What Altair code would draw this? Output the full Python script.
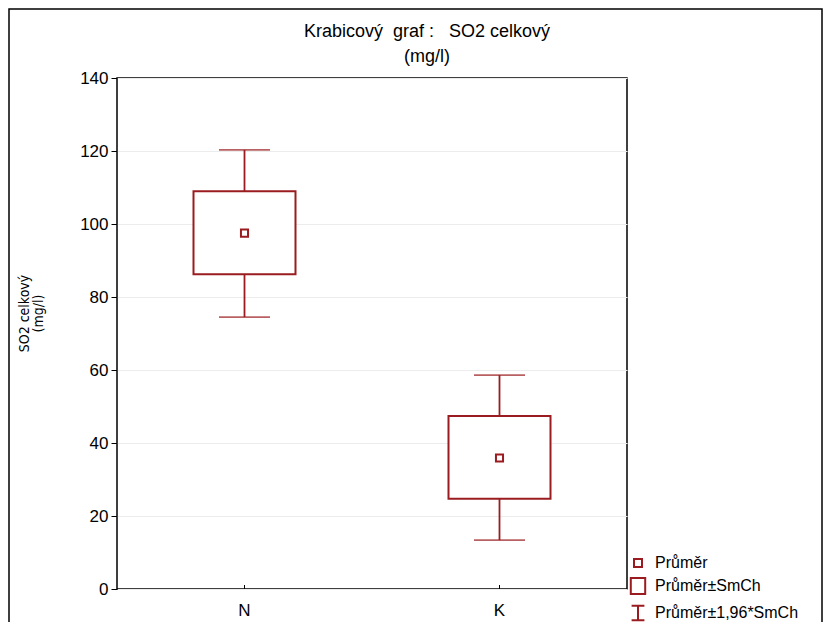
import altair as alt
import pandas as pd

# ---- data ----
categories = ["N", "K"]
means = [97.5, 35.9]
se_low = [86.2, 24.7]
se_high = [109.0, 47.4]
ci_low = [74.5, 13.4]
ci_high = [120.3, 58.6]
legend_labels = ["Průměr", "Průměr±SmCh", "Průměr±1,96*SmCh"]
title_lines = ["Krabicový\u00a0 graf :\u00a0\u00a0 SO2 celkový", "(mg/l)"]
y_title = ["SO2 celkový", "(mg/l)"]

RED = "#9b1c20"
FONT = "Liberation Sans"
W, H = 510, 511

df = pd.DataFrame({
    "cat": categories, "mean": means, "se_low": se_low, "se_high": se_high,
    "ci_low": ci_low, "ci_high": ci_high,
})
leg = pd.DataFrame({"item": legend_labels})
frame_df = pd.DataFrame({"k": [0]})

xenc = alt.X("cat:N", sort=categories,
             scale=alt.Scale(paddingInner=0, paddingOuter=0),
             axis=alt.Axis(title=None, labelAngle=0, labelFontSize=17, labelFont=FONT,
                           labelColor="black", labelPadding=13, ticks=False,
                           domain=False, grid=False))
yscale = alt.Scale(domain=[0, 140], nice=False)
yaxis = alt.Axis(values=list(range(0, 141, 20)), grid=True, gridColor="#ececec",
                 tickSize=6, tickColor="black", tickWidth=1, labelFontSize=17,
                 labelFont=FONT, labelColor="black", labelPadding=3, domain=False,
                 title=y_title, titleFontSize=14,
                 titleFont="Liberation Sans Narrow, DejaVu Sans Condensed, Liberation Sans",
                 titleFontWeight="normal", titleColor="black", titleX=-86, titleY=235,
                 titleAlign="center", titleBaseline="bottom", titleLineHeight=14)

base = alt.Chart(df)

frame = alt.Chart(frame_df).mark_rect(fill=None, stroke="black", strokeWidth=1.5).encode(
    x=alt.value(-108), x2=alt.value(W + 195), y=alt.value(-69), y2=alt.value(H + 60))

whisker = base.mark_rule(color=RED, strokeWidth=1.8).encode(
    x=xenc, y=alt.Y("ci_low:Q", scale=yscale, axis=yaxis), y2="ci_high:Q")
cap_lo = base.mark_tick(color=RED, size=51, thickness=1.8, orient="horizontal").encode(
    x=xenc, y=alt.Y("ci_low:Q", scale=yscale))
cap_hi = base.mark_tick(color=RED, size=51, thickness=1.8, orient="horizontal").encode(
    x=xenc, y=alt.Y("ci_high:Q", scale=yscale))
box = base.mark_bar(fill="white", stroke=RED, strokeWidth=2, size=102).encode(
    x=xenc, y=alt.Y("se_low:Q", scale=yscale), y2="se_high:Q")
mean_pt = base.mark_point(shape="square", filled=False, size=50, strokeWidth=2,
                          color=RED, opacity=1).encode(
    x=xenc, y=alt.Y("mean:Q", scale=yscale))
xticks = base.mark_rule(color="black", strokeWidth=1).encode(
    x=xenc, y=alt.value(H), y2=alt.value(H - 4))

small_sq = "M-0.5,-0.5H0.5V0.5H-0.5Z"
big_sq = "M-0.9,-1H0.9V1H-0.9Z"
ibar = "M-0.8,-0.9H0.8M0,-0.9V0.9M-0.8,0.9H0.8"
legend_layer = alt.Chart(leg).mark_point(filled=False, opacity=0, color=RED).encode(
    shape=alt.Shape("item:N",
                    scale=alt.Scale(domain=legend_labels, range=[small_sq, big_sq, ibar]),
                    legend=alt.Legend(title=None, orient="none", legendX=512, legendY=476,
                                      symbolSize=256, symbolStrokeColor=RED,
                                      symbolStrokeWidth=2, symbolFillColor="transparent",
                                      symbolOpacity=1, labelFont=FONT, labelFontSize=16,
                                      labelColor="black", labelOffset=8, rowPadding=3)))

chart = alt.layer(frame, whisker, cap_lo, cap_hi, box, mean_pt, xticks, legend_layer).properties(
    width=W, height=H,
    background="white",
    autosize=alt.AutoSizeParams(type="none"),
    padding={"left": 109, "top": 70, "right": 197, "bottom": 33},
    title=alt.TitleParams(text=title_lines, fontSize=18,
                          font=FONT, fontWeight="normal", color="black", anchor="middle",
                          frame="group", dx=55, dy=58, offset=0, lineHeight=25),
).configure_view(stroke="black", strokeWidth=1.5)

chart.save("out.html", embed_options={"renderer": "svg", "actions": False})
